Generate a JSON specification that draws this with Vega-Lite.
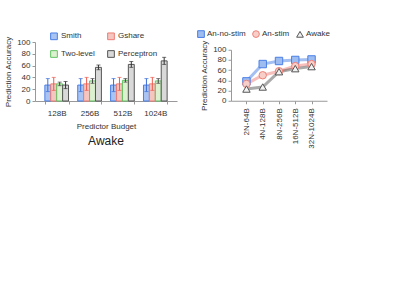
{
  "$schema": "https://vega.github.io/schema/vega-lite/v6.json",
  "padding": {"left": 4, "top": 29, "right": 5, "bottom": 5},
  "background": "white",
  "spacing": 20,
  "center": true,
  "resolve": {"scale": {"fill": "independent", "stroke": "independent", "color": "independent", "shape": "independent"}},
  "config": {
    "font": "Liberation Sans",
    "view": {"stroke": null},
    "axis": {"labelFontSize": 8, "titleFontSize": 8, "titleFontWeight": "normal", "labelColor": "#333", "titleColor": "#333", "domainColor": "#999", "tickColor": "#999", "tickSize": 3, "grid": false},
    "legend": {"labelFontSize": 8, "labelColor": "#333"}
  },
  "hconcat": [
    {
      "width": 142,
      "height": 59,
      "title": {"text": "Awake", "subtitle": "x", "subtitleColor": "white", "subtitleFontSize": 6, "subtitlePadding": 2, "orient": "bottom", "fontSize": 12, "fontWeight": "normal", "color": "#222", "offset": 6},
      "data": {"values": [
        {"budget": "128B", "series": "Smith", "value": 27, "lo": 16, "hi": 38},
        {"budget": "128B", "series": "Gshare", "value": 29, "lo": 18, "hi": 40},
        {"budget": "128B", "series": "Two-level", "value": 29, "lo": 26, "hi": 32},
        {"budget": "128B", "series": "Perceptron", "value": 27, "lo": 21, "hi": 33},
        {"budget": "256B", "series": "Smith", "value": 27, "lo": 16, "hi": 38},
        {"budget": "256B", "series": "Gshare", "value": 29, "lo": 18, "hi": 40},
        {"budget": "256B", "series": "Two-level", "value": 34, "lo": 30, "hi": 38},
        {"budget": "256B", "series": "Perceptron", "value": 57, "lo": 53, "hi": 61},
        {"budget": "512B", "series": "Smith", "value": 27, "lo": 16, "hi": 38},
        {"budget": "512B", "series": "Gshare", "value": 29, "lo": 18, "hi": 40},
        {"budget": "512B", "series": "Two-level", "value": 35, "lo": 32, "hi": 38},
        {"budget": "512B", "series": "Perceptron", "value": 62, "lo": 57, "hi": 67},
        {"budget": "1024B", "series": "Smith", "value": 27, "lo": 16, "hi": 38},
        {"budget": "1024B", "series": "Gshare", "value": 29, "lo": 18, "hi": 40},
        {"budget": "1024B", "series": "Two-level", "value": 34, "lo": 30, "hi": 38},
        {"budget": "1024B", "series": "Perceptron", "value": 68, "lo": 62, "hi": 74}
      ]},
      "encoding": {
        "x": {"field": "budget", "type": "nominal", "sort": ["128B", "256B", "512B", "1024B"],
              "scale": {"paddingInner": 0.28, "paddingOuter": 0.3},
              "axis": {"title": "Predictor Budget", "labelAngle": 0, "tickBand": "extent", "labelPadding": 5, "titlePadding": 5}},
        "xOffset": {"field": "series", "type": "nominal", "sort": ["Smith", "Gshare", "Two-level", "Perceptron"], "scale": {"paddingInner": 0}}
      },
      "layer": [
        {
          "mark": {"type": "bar", "strokeWidth": 1},
          "encoding": {
            "y": {"field": "value", "type": "quantitative", "scale": {"domain": [0, 100]},
                  "axis": {"values": [0, 20, 40, 60, 80, 100], "title": "Prediction Accuracy", "titlePadding": 4}},
            "fill": {"field": "series", "type": "nominal",
                     "scale": {"domain": ["Smith", "Gshare", "Two-level", "Perceptron"], "range": ["#a9c4f2", "#f5c5c0", "#ddf0d0", "#d9d9d9"]},
                     "legend": {"title": null, "orient": "none", "legendX": 15, "legendY": -10, "columns": 2, "direction": "horizontal", "symbolType": "square", "symbolSize": 45, "rowPadding": 6, "columnPadding": 10, "labelOffset": 3, "symbolStrokeWidth": 1}},
            "stroke": {"field": "series", "type": "nominal",
                       "scale": {"domain": ["Smith", "Gshare", "Two-level", "Perceptron"], "range": ["#4a7fe6", "#ee7d74", "#62c262", "#555555"]},
                       "legend": {"title": null, "orient": "none", "legendX": 15, "legendY": -10, "columns": 2, "direction": "horizontal", "symbolType": "square", "symbolSize": 45, "rowPadding": 6, "columnPadding": 10, "labelOffset": 3, "symbolStrokeWidth": 1}}
          }
        },
        {
          "mark": {"type": "rule", "strokeWidth": 1},
          "encoding": {
            "y": {"field": "lo", "type": "quantitative", "axis": {"values": [0, 20, 40, 60, 80, 100], "title": "Prediction Accuracy", "titlePadding": 4}},
            "y2": {"field": "hi"},
            "color": {"field": "series", "type": "nominal", "scale": {"domain": ["Smith", "Gshare", "Two-level", "Perceptron"], "range": ["#3b6fd8", "#ec5b50", "#444444", "#333333"]}, "legend": null}
          }
        },
        {
          "mark": {"type": "tick", "thickness": 1, "size": 4},
          "encoding": {
            "y": {"field": "lo", "type": "quantitative", "axis": {"values": [0, 20, 40, 60, 80, 100], "title": "Prediction Accuracy", "titlePadding": 4}},
            "color": {"field": "series", "type": "nominal", "legend": null}
          }
        },
        {
          "mark": {"type": "tick", "thickness": 1, "size": 4},
          "encoding": {
            "y": {"field": "hi", "type": "quantitative", "axis": {"values": [0, 20, 40, 60, 80, 100], "title": "Prediction Accuracy", "titlePadding": 4}},
            "color": {"field": "series", "type": "nominal", "legend": null}
          }
        }
      ]
    },
    {
      "width": 96,
      "height": 51,
      "data": {"values": [
        {"config": "2N-64B", "series": "An-no-stim", "value": 38},
        {"config": "4N-128B", "series": "An-no-stim", "value": 72},
        {"config": "8N-256B", "series": "An-no-stim", "value": 78},
        {"config": "16N-512B", "series": "An-no-stim", "value": 80},
        {"config": "32N-1024B", "series": "An-no-stim", "value": 81},
        {"config": "2N-64B", "series": "An-stim", "value": 33},
        {"config": "4N-128B", "series": "An-stim", "value": 50},
        {"config": "8N-256B", "series": "An-stim", "value": 58},
        {"config": "16N-512B", "series": "An-stim", "value": 68},
        {"config": "32N-1024B", "series": "An-stim", "value": 72},
        {"config": "2N-64B", "series": "Awake", "value": 23},
        {"config": "4N-128B", "series": "Awake", "value": 27},
        {"config": "8N-256B", "series": "Awake", "value": 57},
        {"config": "16N-512B", "series": "Awake", "value": 63},
        {"config": "32N-1024B", "series": "Awake", "value": 67}
      ]},
      "encoding": {
        "x": {"field": "config", "type": "ordinal", "sort": ["2N-64B", "4N-128B", "8N-256B", "16N-512B", "32N-1024B"],
              "scale": {"type": "point", "padding": 0.95},
              "axis": {"title": null, "labelAngle": 270, "labelPadding": 4}},
        "y": {"field": "value", "type": "quantitative", "scale": {"domain": [0, 100]},
              "axis": {"values": [0, 20, 40, 60, 80, 100], "title": "Prediction Accuracy", "titlePadding": 4}},
        "stroke": {"field": "series", "type": "nominal", "scale": {"domain": ["An-no-stim", "An-stim", "Awake"], "range": ["#4a7fe6", "#ee8078", "#555555"]},
                   "legend": {"title": null, "orient": "none", "legendX": -34, "legendY": -20, "direction": "horizontal", "symbolSize": 45, "columnPadding": 4, "labelOffset": 2, "symbolStrokeWidth": 1}}
      },
      "layer": [
        {
          "mark": {"type": "line", "strokeWidth": 3, "strokeOpacity": 0.5}
        },
        {
          "mark": {"type": "point", "filled": true, "size": 55, "strokeWidth": 1, "opacity": 1},
          "encoding": {
            "shape": {"field": "series", "type": "nominal", "scale": {"domain": ["An-no-stim", "An-stim", "Awake"], "range": ["square", "circle", "triangle-up"]},
                      "legend": {"title": null, "orient": "none", "legendX": -34, "legendY": -20, "direction": "horizontal", "symbolSize": 45, "columnPadding": 4, "labelOffset": 2, "symbolStrokeWidth": 1}},
            "fill": {"field": "series", "type": "nominal", "scale": {"domain": ["An-no-stim", "An-stim", "Awake"], "range": ["#9dbcf0", "#f8cfc8", "#f2f2f2"]},
                     "legend": {"title": null, "orient": "none", "legendX": -34, "legendY": -20, "direction": "horizontal", "symbolSize": 45, "columnPadding": 4, "labelOffset": 2, "symbolStrokeWidth": 1}}
          }
        }
      ]
    }
  ]
}
